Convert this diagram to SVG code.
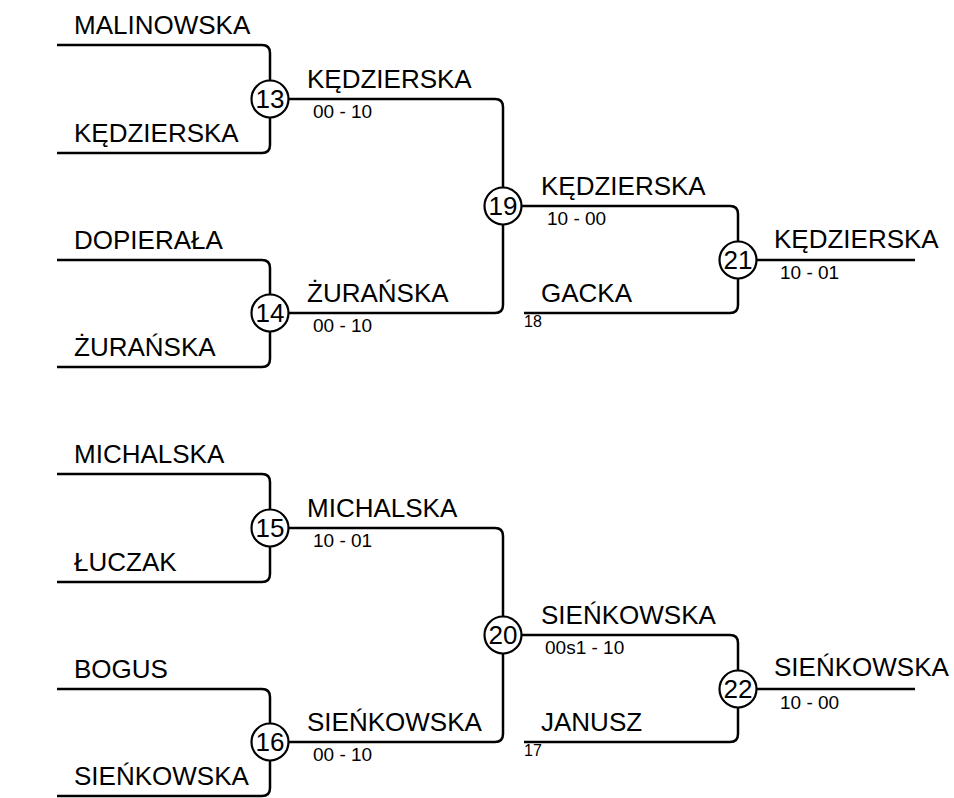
<svg xmlns="http://www.w3.org/2000/svg" width="954" height="798" viewBox="0 0 954 798">
<style>
.c{fill:none;stroke:#000;stroke-width:2.5;stroke-linejoin:round}
.m circle{fill:#fff;stroke:#000;stroke-width:2.2}
.m text{font-family:"Liberation Sans",Arial,sans-serif;font-size:26px;text-anchor:middle;fill:#000}
.n{font-family:"Liberation Sans",Arial,sans-serif;font-size:26px;fill:#000}
.s{font-family:"Liberation Sans",Arial,sans-serif;font-size:19px;fill:#000}
.t{font-family:"Liberation Sans",Arial,sans-serif;font-size:16px;fill:#000}
</style>
<rect width="954" height="798" fill="#fff"/>
<g id="connectors">
<path class="c" d="M57,45 H262 Q270,45 270,53 V145 Q270,153 262,153 H57"/>
<path class="c" d="M57,260 H262 Q270,260 270,268 V359 Q270,367 262,367 H57"/>
<path class="c" d="M270,99 H495 Q503,99 503,107 V305 Q503,313 495,313 H270"/>
<path class="c" d="M503,206 H730 Q738,206 738,214 V305 Q738,313 730,313 H524"/>
<path class="c" d="M738,260 H915"/>
<path class="c" d="M57,474 H262 Q270,474 270,482 V574 Q270,582 262,582 H57"/>
<path class="c" d="M57,689 H262 Q270,689 270,697 V788 Q270,796 262,796 H57"/>
<path class="c" d="M270,528 H495 Q503,528 503,536 V734 Q503,742 495,742 H270"/>
<path class="c" d="M503,635 H730 Q738,635 738,643 V734 Q738,742 730,742 H524"/>
<path class="c" d="M738,689 H915"/>
</g>
<g id="labels">
<text class="n" x="74" y="34">MALINOWSKA</text>
<text class="n" x="74" y="142">KĘDZIERSKA</text>
<text class="n" x="74" y="249">DOPIERAŁA</text>
<text class="n" x="74" y="356">ŻURAŃSKA</text>
<text class="n" x="74" y="463">MICHALSKA</text>
<text class="n" x="74" y="571">ŁUCZAK</text>
<text class="n" x="74" y="678">BOGUS</text>
<text class="n" x="74" y="785">SIEŃKOWSKA</text>
<text class="n" x="307" y="88">KĘDZIERSKA</text>
<text class="s" x="313" y="118">00 - 10</text>
<text class="n" x="307" y="302">ŻURAŃSKA</text>
<text class="s" x="313" y="332">00 - 10</text>
<text class="n" x="307" y="517">MICHALSKA</text>
<text class="s" x="313" y="547">10 - 01</text>
<text class="n" x="307" y="731">SIEŃKOWSKA</text>
<text class="s" x="313" y="761">00 - 10</text>
<text class="n" x="541" y="195">KĘDZIERSKA</text>
<text class="s" x="547" y="225">10 - 00</text>
<text class="n" x="541" y="302">GACKA</text>
<text class="t" x="524" y="327">18</text>
<text class="n" x="541" y="624">SIEŃKOWSKA</text>
<text class="s" x="545" y="654">00s1 - 10</text>
<text class="n" x="541" y="731">JANUSZ</text>
<text class="t" x="524" y="756">17</text>
<text class="n" x="774" y="248">KĘDZIERSKA</text>
<text class="s" x="780" y="279">10 - 01</text>
<text class="n" x="774" y="676">SIEŃKOWSKA</text>
<text class="s" x="780" y="709">10 - 00</text>
</g>
<g id="match13" class="m"><circle cx="270" cy="99" r="18.5"/><text x="270" y="108">13</text></g>
<g id="match14" class="m"><circle cx="270" cy="313" r="18.5"/><text x="270" y="322">14</text></g>
<g id="match15" class="m"><circle cx="270" cy="528" r="18.5"/><text x="270" y="537">15</text></g>
<g id="match16" class="m"><circle cx="270" cy="742" r="18.5"/><text x="270" y="751">16</text></g>
<g id="match19" class="m"><circle cx="503" cy="206" r="18.5"/><text x="503" y="215">19</text></g>
<g id="match20" class="m"><circle cx="503" cy="635" r="18.5"/><text x="503" y="644">20</text></g>
<g id="match21" class="m"><circle cx="738" cy="260" r="18.5"/><text x="738" y="269">21</text></g>
<g id="match22" class="m"><circle cx="738" cy="689" r="18.5"/><text x="738" y="698">22</text></g>
</svg>
